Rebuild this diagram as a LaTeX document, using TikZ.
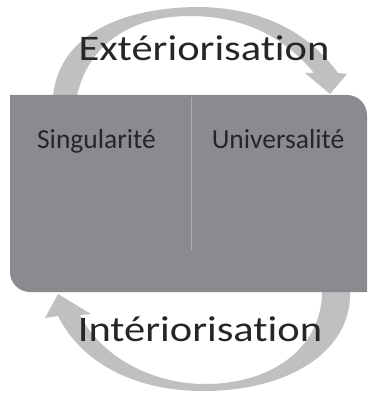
\documentclass[tikz,border=0pt]{standalone}
\usepackage{fontspec}
\setmainfont{Carlito}[Ligatures={NoCommon,NoRequired,NoContextual,NoDiscretionary}]
\definecolor{boxgray}{RGB}{138,139,143}
\definecolor{arrowgray}{RGB}{192,192,194}
\definecolor{divgray}{RGB}{172,173,176}
\definecolor{txtdark}{RGB}{38,38,40}
\begin{document}
\begin{tikzpicture}[x=1pt,y=-1pt,
  bigtext/.style={inner sep=0pt,anchor=base,text=txtdark,font=\fontsize{36}{40}\selectfont},
  boxtext/.style={inner sep=0pt,anchor=base,text=txtdark,font=\fontsize{27.5}{32}\selectfont}]
\useasboundingbox (0,0) rectangle (367,393);
% top arc arrow
\fill[arrowgray] (53,96) .. controls (60,30) and (130,7) .. (200,7)
  .. controls (262,8) and (308,32) .. (338,73)
  -- (347,74) -- (330,94) -- (305,73) -- (314,73)
  .. controls (287,40) and (247,16) .. (190,16)
  .. controls (130,16) and (88,45) .. (77,96) -- cycle;
% bottom arc arrow
\fill[arrowgray] (350,292) .. controls (352,350) and (290,392) .. (200,391)
  .. controls (130,390) and (80,360) .. (58,316)
  -- (45,318) -- (58,294) -- (91,314) -- (80,315)
  .. controls (100,355) and (150,384) .. (205,384)
  .. controls (275,384) and (322,345) .. (322,292) -- cycle;
% box
\fill[boxgray] (10,95) -- (347,95) .. controls (358,95) and (367,104) .. (367,115)
  -- (367,292) -- (30,292) .. controls (19,292) and (10,283) .. (10,272) -- cycle;
\coordinate (dtop) at (191,97);
\coordinate (dbot) at (191,250);
\draw[divgray,line width=1pt] (dtop) -- (dbot);
\node[boxtext] (sing) at (96.5,148) {Singularité};
\node[boxtext] (univ) at (278,148) {Universalité};
\node[bigtext] (ext) at (204,61) {\scalebox{1.18}[1]{Extériorisation}};
\node[bigtext] (int) at (200,341) {\scalebox{1.18}[1]{Intériorisation}};
\end{tikzpicture}
\end{document}
